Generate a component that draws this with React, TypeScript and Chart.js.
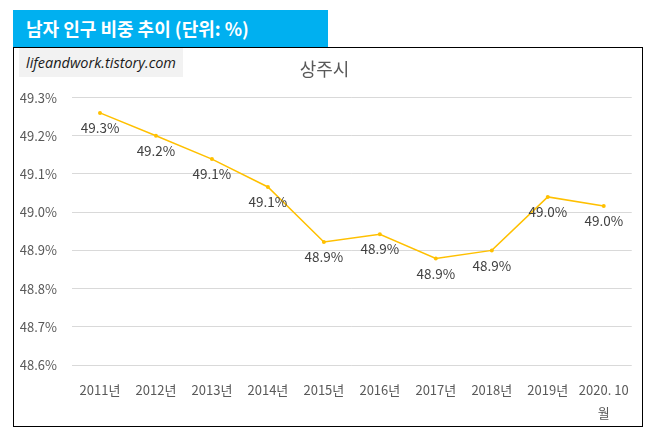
import { useEffect, useRef } from "react";
import Chart from "chart.js/auto";

const years: (string | string[])[] = [
  "2011년",
  "2012년",
  "2013년",
  "2014년",
  "2015년",
  "2016년",
  "2017년",
  "2018년",
  "2019년",
  ["2020. 10", "월"],
];
const maleShare = [49.26, 49.2, 49.139, 49.066, 48.922, 48.942, 48.879, 48.9, 49.04, 49.016];
const yMin = 48.6;
const yMax = 49.3;
const yStep = 0.1;

const FONT = "'Noto Sans CJK KR', 'Noto Sans', sans-serif";

// 각 점 아래에 값 라벨 그리기
const valueLabels = {
  id: "valueLabels",
  afterDatasetsDraw(chart: Chart) {
    const ctx = chart.ctx;
    const meta = chart.getDatasetMeta(0);
    ctx.save();
    ctx.font = `13.5px ${FONT}`;
    ctx.fillStyle = "#404040";
    ctx.textAlign = "center";
    ctx.textBaseline = "middle";
    meta.data.forEach((pt, i) => {
      ctx.fillText(maleShare[i].toFixed(1) + "%", pt.x, pt.y + 15);
    });
    ctx.restore();
  },
};

const App = () => {
  const chartRef = useRef<HTMLCanvasElement | null>(null);
  const chartInstance = useRef<Chart | null>(null);

  useEffect(() => {
    if (!chartRef.current) return;
    const ctx = chartRef.current.getContext("2d");
    if (!ctx) return;

    chartInstance.current = new Chart(ctx, {
      type: "line",
      data: {
        labels: years,
        datasets: [
          {
            label: "상주시",
            data: maleShare,
            borderColor: "#FFC000",
            backgroundColor: "#FFC000",
            borderWidth: 1.5,
            pointRadius: 2,
            pointBorderWidth: 0,
            pointBackgroundColor: "#FFC000",
            tension: 0,
            fill: false,
          },
        ],
      },
      options: {
        animation: false,
        responsive: true,
        maintainAspectRatio: false,
        layout: { padding: { left: 0, right: 7, top: 0, bottom: 1 } },
        plugins: {
          legend: { display: false },
          tooltip: { enabled: false },
          title: {
            display: true,
            text: "상주시",
            color: "#595959",
            font: { family: FONT, size: 18, weight: "normal" },
            padding: { top: 10, bottom: 18 },
          },
        },
        scales: {
          x: {
            offset: true,
            afterFit: (scale) => {
              scale.height = 60;
            },
            grid: { display: false, drawTicks: false },
            border: { display: false },
            ticks: {
              color: "#595959",
              font: { family: FONT, size: 13, lineHeight: 1.8 },
              padding: 13,
              maxRotation: 0,
              autoSkip: false,
            },
          },
          y: {
            min: yMin,
            max: yMax,
            afterFit: (scale) => {
              scale.width = 58;
            },
            grid: { color: "#D9D9D9", drawTicks: false },
            border: { display: false },
            ticks: {
              stepSize: yStep,
              color: "#595959",
              padding: 15,
              font: { family: FONT, size: 13 },
              callback: (v) => Number(v).toFixed(1) + "%",
            },
          },
        },
      },
      plugins: [valueLabels],
    });

    return () => {
      if (chartInstance.current) {
        chartInstance.current.destroy();
        chartInstance.current = null;
      }
    };
  }, []);

  return (
    <div
      style={{
        position: "absolute",
        left: 0,
        top: 0,
        width: 657,
        height: 440,
        background: "#fff",
        fontFamily: FONT,
      }}
    >
      <div
        style={{
          position: "absolute",
          left: 13,
          top: 10,
          width: 315,
          height: 37,
          background: "#00B0F0",
          color: "#fff",
          fontWeight: "bold",
          fontSize: 18,
          lineHeight: "37px",
          paddingLeft: 13,
          boxSizing: "border-box",
          whiteSpace: "nowrap",
        }}
      >
        남자 인구 비중 추이 (단위: %)
      </div>
      <div
        style={{
          position: "absolute",
          left: 13,
          top: 47,
          width: 630,
          height: 380,
          border: "1px solid #000",
          boxSizing: "border-box",
        }}
      >
        <div style={{ position: "absolute", left: 0, top: 0, width: 628, height: 378 }}>
          <canvas ref={chartRef}></canvas>
        </div>
        <div
          style={{
            position: "absolute",
            left: 5,
            top: 0,
            width: 164,
            height: 29,
            background: "#F2F2F2",
            fontFamily: "'Open Sans', sans-serif",
            fontStyle: "italic",
            fontSize: 14.5,
            lineHeight: "29px",
            color: "#1a1a1a",
            textAlign: "center",
            whiteSpace: "nowrap",
          }}
        >
          lifeandwork.tistory.com
        </div>
      </div>
    </div>
  );
};

export default App;
